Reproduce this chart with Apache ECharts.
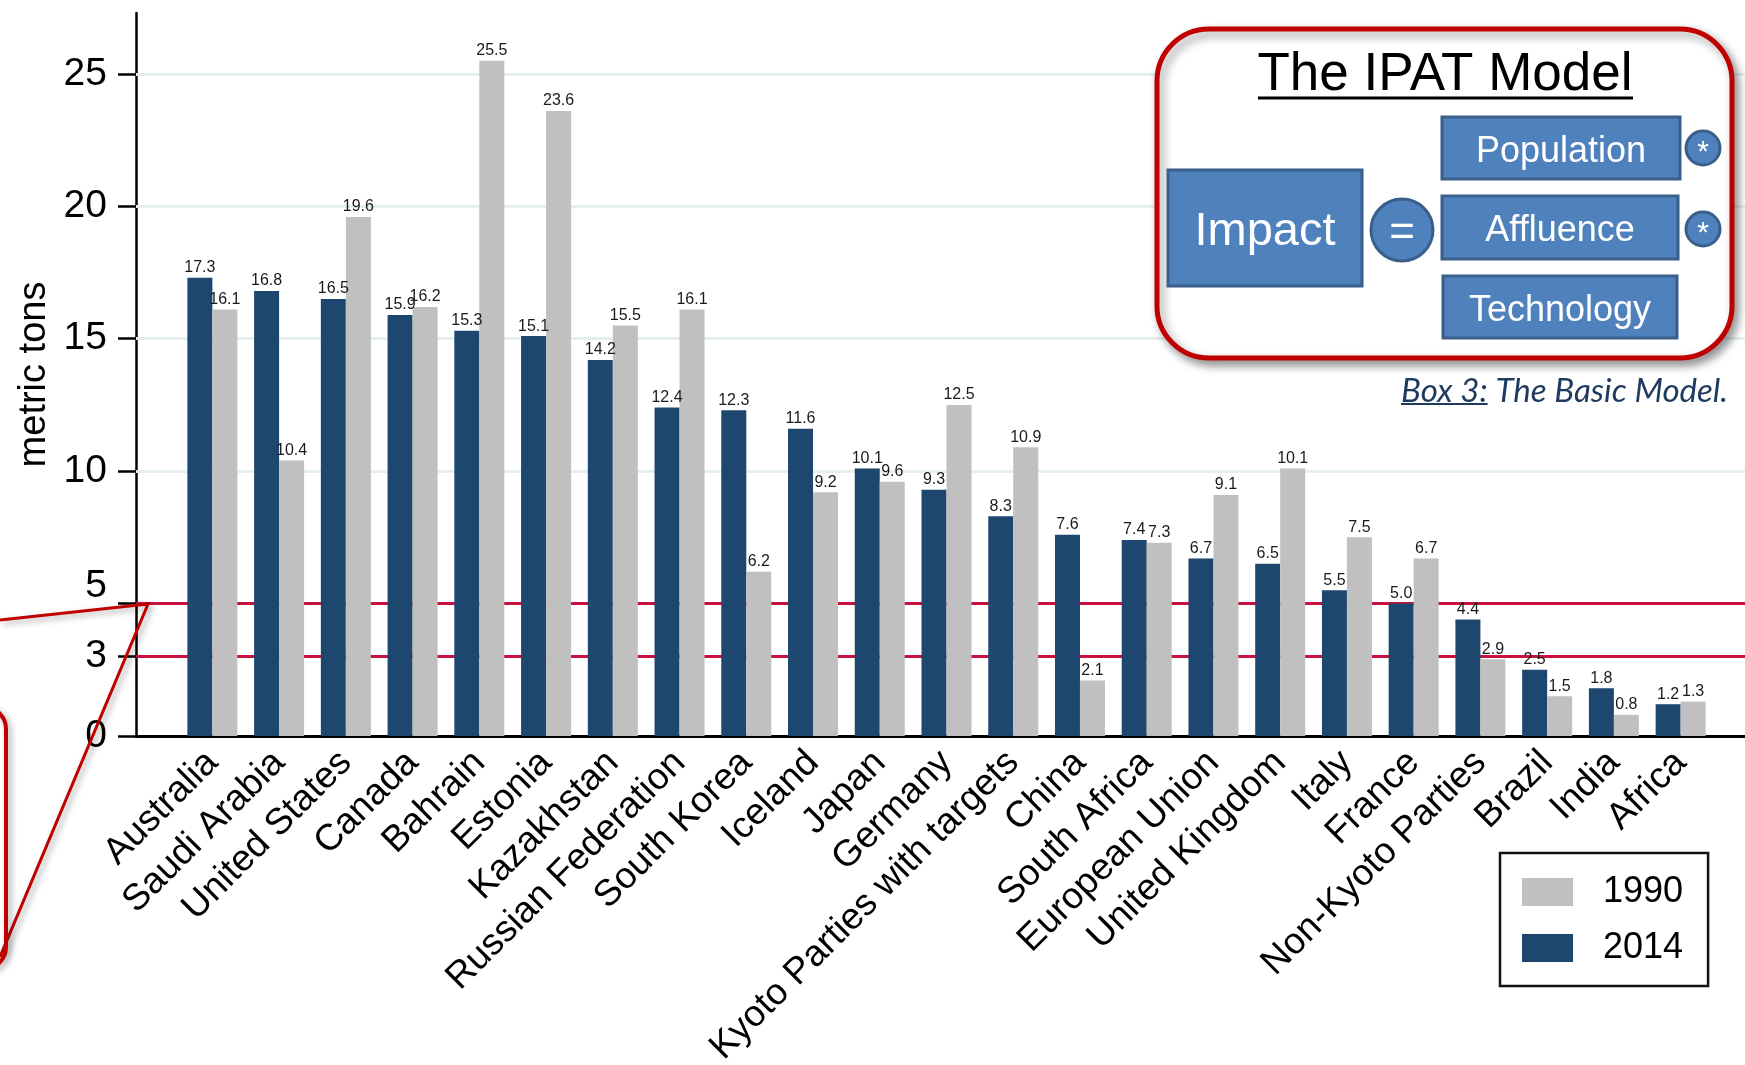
<!DOCTYPE html>
<html>
<head>
<meta charset="utf-8">
<script src="https://cdn.jsdelivr.net/npm/echarts@6/dist/echarts.min.js"></script>
<style>
  html, body { margin: 0; padding: 0; background: #fff; }
  #chart { width: 1745px; height: 1065px; }
</style>
</head>
<body>
<div id="chart"></div>
<script>
var countries = ["Australia", "Saudi Arabia", "United States", "Canada", "Bahrain", "Estonia",
  "Kazakhstan", "Russian Federation", "South Korea", "Iceland", "Japan", "Germany",
  "Kyoto Parties with targets", "China", "South Africa", "European Union", "United Kingdom",
  "Italy", "France", "Non-Kyoto Parties", "Brazil", "India", "Africa"];
var values2014 = [17.3, 16.8, 16.5, 15.9, 15.3, 15.1, 14.2, 12.4, 12.3, 11.6, 10.1, 9.3,
  8.3, 7.6, 7.4, 6.7, 6.5, 5.5, 5.0, 4.4, 2.5, 1.8, 1.2];
var values1990 = [16.1, 10.4, 19.6, 16.2, 25.5, 23.6, 15.5, 16.1, 6.2, 9.2, 9.6, 12.5,
  10.9, 2.1, 7.3, 9.1, 10.1, 7.5, 6.7, 2.9, 1.5, 0.8, 1.3];
var yTicks = [0, 3, 5, 10, 15, 20, 25];
var redLines = [3, 5];
var gridLines = [10, 15, 20, 25];

var FONT = "Liberation Sans, Arial, sans-serif";
var DARK = "#1e476f";
var GRAY = "#c0c0c0";
var RED = "#c8113f";
var BOXBLUE = "#4f81bd";
var BOXEDGE = "#3a5f8b";
var CAPTION = "#1f3a5f";

var chart = echarts.init(document.getElementById("chart"));

// caption sizing: fit the caption into its width in the reference
var ctx = document.createElement("canvas").getContext("2d");
var capFace = "Lato, 'Open Sans', sans-serif";
ctx.font = "italic 30px " + capFace;
var capSize = 30 * 327 / ctx.measureText("Box 3: The Basic Model.").width;
ctx.font = "italic " + capSize + "px " + capFace;
var boxWordW = ctx.measureText("Box 3:").width;

function barLabel() {
  return {
    show: true,
    position: "top",
    distance: 2,
    fontSize: 16,
    fontFamily: FONT,
    color: "#1a1a1a",
    formatter: function (p) { return p.value.toFixed(1); }
  };
}

function boxRect(x, y, w, h) {
  return {
    type: "rect", z: 102,
    shape: { x: x, y: y, width: w, height: h },
    style: { fill: BOXBLUE, stroke: BOXEDGE, lineWidth: 3 }
  };
}
function boxText(cx, cy, txt, size) {
  return {
    type: "text", z: 103, x: cx, y: cy,
    style: { text: txt, fill: "#fff", font: size + "px " + FONT, align: "center", verticalAlign: "middle" }
  };
}
function boxCircle(cx, cy, r) {
  return {
    type: "circle", z: 102,
    shape: { cx: cx, cy: cy, r: r },
    style: { fill: BOXBLUE, stroke: BOXEDGE, lineWidth: 3 }
  };
}

var option = {
  backgroundColor: "#fff",
  animation: false,
  grid: [
    { left: 179, right: 31, top: 13, bottom: 329, outerBoundsMode: "none" },
    { left: 136, right: 0, top: 13, bottom: 329, outerBoundsMode: "none" }
  ],
  legend: {
    data: ["1990", "2014"],
    orient: "vertical",
    left: 1500,
    top: 853,
    icon: "rect",
    itemWidth: 51,
    itemHeight: 28,
    itemGap: 20,
    padding: [21, 25, 20, 22],
    borderColor: "#111",
    borderWidth: 2.5,
    backgroundColor: "#fff",
    textStyle: { fontSize: 36, lineHeight: 36, fontFamily: FONT, color: "#000", padding: [0, 0, 0, 25] }
  },
  xAxis: [
    {
      gridIndex: 0,
      type: "category",
      data: countries,
      axisLine: { show: false },
      axisTick: { show: false },
      axisLabel: {
        interval: 0, rotate: 45, margin: 21,
        fontSize: 37, fontFamily: FONT, color: "#000"
      }
    },
    {
      gridIndex: 1,
      type: "value",
      min: 0, max: 1,
      axisLine: { show: true, lineStyle: { color: "#000", width: 3 } },
      axisTick: { show: false },
      axisLabel: { show: false },
      splitLine: { show: false }
    }
  ],
  yAxis: [
    { gridIndex: 0, type: "value", min: 0, max: 27.3, show: false },
    {
      gridIndex: 1,
      type: "value",
      min: 0, max: 27.3,
      name: "metric tons",
      nameLocation: "middle",
      nameRotate: 90,
      nameGap: 82,
      nameMoveOverlap: false,
      nameTextStyle: { fontSize: 38, fontFamily: FONT, color: "#000" },
      axisLine: { show: true, lineStyle: { color: "#000", width: 2.5 } },
      axisTick: { show: true, length: 18, customValues: yTicks, lineStyle: { color: "#000", width: 2.5 } },
      axisLabel: {
        customValues: yTicks,
        margin: 29,
        fontSize: 39, fontFamily: FONT, color: "#000",
        formatter: function (v) { return v === 5 ? "{up|5}" : String(v); },
        rich: { up: { fontSize: 39, fontFamily: FONT, color: "#000", padding: [0, 0, 34, 0] } }
      },
      splitLine: { show: false }
    }
  ],
  series: [
    {
      name: "refs",
      type: "line",
      xAxisIndex: 1, yAxisIndex: 1,
      data: [],
      z: 1,
      silent: true,
      markLine: {
        z: 1,
        silent: true,
        symbol: "none",
        label: { show: false },
        data: gridLines.map(function (v) {
          return { yAxis: v, lineStyle: { color: "#e6eff0", width: 3, type: "solid" } };
        }).concat(redLines.map(function (v) {
          return { yAxis: v, lineStyle: { color: RED, width: 3, type: "solid" } };
        }))
      }
    },
    {
      name: "2014",
      type: "bar",
      xAxisIndex: 0, yAxisIndex: 0,
      data: values2014,
      barWidth: 25,
      barGap: 0,
      z: 10,
      itemStyle: { color: DARK },
      label: barLabel()
    },
    {
      name: "1990",
      type: "bar",
      xAxisIndex: 0, yAxisIndex: 0,
      data: values1990,
      barWidth: 25,
      barGap: 0,
      z: 10,
      itemStyle: { color: GRAY },
      label: barLabel()
    }
  ],
  graphic: [
    // callout on the left
    {
      type: "polyline", z: 50,
      shape: { points: [[0, 620], [148, 604], [0, 957]] },
      style: { fill: null, stroke: "#c00000", lineWidth: 3, shadowBlur: 6, shadowOffsetX: 3, shadowOffsetY: 3, shadowColor: "rgba(0,0,0,0.35)" }
    },
    {
      type: "rect", z: 50,
      shape: { x: -300, y: 707, width: 306, height: 262, r: 22 },
      style: { fill: null, stroke: "#c00000", lineWidth: 4, shadowBlur: 6, shadowOffsetX: 3, shadowOffsetY: 3, shadowColor: "rgba(0,0,0,0.35)" }
    },
    // IPAT box
    {
      type: "rect", z: 100,
      shape: { x: 1157, y: 29, width: 575, height: 329, r: 52 },
      style: { fill: "#fff", stroke: "#c00000", lineWidth: 5, shadowBlur: 10, shadowOffsetX: 4, shadowOffsetY: 5, shadowColor: "rgba(0,0,0,0.4)" }
    },
    {
      type: "text", z: 103, x: 1445, y: 75,
      style: { text: "The IPAT Model", fill: "#000", font: "53px " + FONT, align: "center", verticalAlign: "middle" }
    },
    {
      type: "line", z: 103,
      shape: { x1: 1258, y1: 98, x2: 1633, y2: 98 },
      style: { stroke: "#000", lineWidth: 3 }
    },
    boxRect(1168, 170, 194, 116),
    boxText(1265, 232, "Impact", 47),
    boxCircle(1402, 230, 31),
    boxText(1402, 234, "=", 44),
    boxRect(1442, 117, 238, 62),
    boxText(1561, 152, "Population", 36),
    boxRect(1442, 196, 236, 63),
    boxText(1560, 231, "Affluence", 36),
    boxRect(1443, 276, 234, 62),
    boxText(1560, 311, "Technology", 36),
    boxCircle(1703, 148, 17),
    boxText(1703, 153, "*", 30),
    boxCircle(1703, 229, 17),
    boxText(1703, 234, "*", 30),
    // caption
    {
      type: "text", z: 103, x: 1728, y: 391,
      style: { text: "Box 3: The Basic Model.", fill: CAPTION, font: "italic " + capSize + "px " + capFace, align: "right", verticalAlign: "middle" }
    },
    {
      type: "line", z: 103,
      shape: { x1: 1728 - 327, y1: 404, x2: 1728 - 327 + boxWordW, y2: 404 },
      style: { stroke: CAPTION, lineWidth: 2 }
    }
  ]
};

chart.setOption(option);
</script>
</body>
</html>
